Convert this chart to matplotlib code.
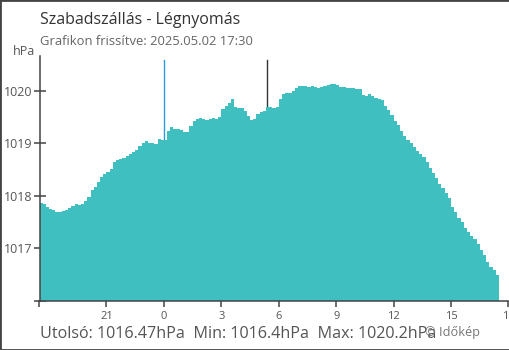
import numpy as np
import matplotlib.pyplot as plt
from matplotlib.patches import Rectangle

plt.rcParams['font.family'] = ['Open Sans', 'DejaVu Sans']

# 10 minute readings, starting 17:30 the previous day (hours relative to midnight)
start_hour = -6.5
step_hour = 1 / 6
pressure = [
    1017.86, 1017.84, 1017.79, 1017.75, 1017.72, 1017.69, 1017.69, 1017.71, 1017.73, 1017.77,
    1017.81, 1017.84, 1017.82, 1017.84, 1017.90, 1017.98, 1018.11, 1018.17, 1018.26, 1018.36,
    1018.42, 1018.45, 1018.51, 1018.64, 1018.68, 1018.70, 1018.72, 1018.76, 1018.80, 1018.83,
    1018.87, 1018.95, 1019.01, 1019.04, 1019.01, 1019.01, 1018.99, 1019.08, 1019.06, 1019.06,
    1019.23, 1019.31, 1019.27, 1019.27, 1019.25, 1019.22, 1019.22, 1019.33, 1019.42, 1019.46,
    1019.48, 1019.46, 1019.44, 1019.46, 1019.48, 1019.46, 1019.50, 1019.65, 1019.71, 1019.77,
    1019.84, 1019.69, 1019.67, 1019.67, 1019.62, 1019.52, 1019.44, 1019.46, 1019.56, 1019.60,
    1019.62, 1019.69, 1019.69, 1019.67, 1019.69, 1019.84, 1019.94, 1019.96, 1019.96, 1020.00,
    1020.05, 1020.09, 1020.09, 1020.09, 1020.07, 1020.09, 1020.07, 1020.05, 1020.07, 1020.09,
    1020.11, 1020.13, 1020.13, 1020.11, 1020.07, 1020.07, 1020.05, 1020.05, 1020.05, 1020.03,
    1020.03, 1019.92, 1019.90, 1019.94, 1019.90, 1019.86, 1019.84, 1019.82, 1019.71, 1019.63,
    1019.54, 1019.42, 1019.35, 1019.23, 1019.14, 1019.06, 1019.01, 1018.93, 1018.85, 1018.80,
    1018.74, 1018.64, 1018.53, 1018.43, 1018.34, 1018.22, 1018.15, 1018.05, 1017.96, 1017.79,
    1017.69, 1017.58, 1017.50, 1017.39, 1017.31, 1017.23, 1017.18, 1017.08, 1016.97, 1016.87,
    1016.74, 1016.64, 1016.59, 1016.49,
]

x_ticks = [-6.5, -3, 0, 3, 6, 9, 12, 15, 18]
x_labels = ['', '21', '0', '3', '6', '9', '12', '15', '18']
y_ticks = [1016, 1017, 1018, 1019, 1020]
y_labels = ['', '1017', '1018', '1019', '1020']
marker_hour = 5.37

edges = start_hour + step_hour * np.arange(len(pressure) + 1)

fig = plt.figure(figsize=(5.1, 3.5), dpi=100)
ax = fig.add_axes([39.5 / 510, 49.2 / 350, 469 / 510, 244.8 / 350])

ax.axvline(0, ymax=0.984, color='#2b9be0', lw=1, zorder=1)
ax.axvline(marker_hour, ymax=0.984, color='#333333', lw=1, zorder=1)
ax.stairs(pressure, edges, baseline=1016, fill=True, color='#40bfc1', lw=0, zorder=2)

ax.set_xlim(-6.5, 18)
ax.set_ylim(1016, 1020.66)
ax.set_xticks(x_ticks, x_labels)
ax.set_yticks(y_ticks, y_labels)

for s in ['top', 'right']:
    ax.spines[s].set_visible(False)
for s in ['left', 'bottom']:
    ax.spines[s].set_color('#444444')
    ax.spines[s].set_linewidth(1.1)

ax.tick_params(axis='x', direction='out', length=4, width=1.1, color='#444444',
               labelsize=8, labelcolor='#555555', pad=3)
ax.tick_params(axis='y', direction='inout', length=8, width=1.1, color='#444444',
               labelsize=9, labelcolor='#555555', pad=1)
ax.get_xticklines()[4].set_color('#2b9be0')

fig.text(40 / 510, 1 - 24 / 350, 'Szabadszállás - Légnyomás', fontsize=11.5, color='#333333')
fig.text(40 / 510, 1 - 45 / 350, 'Grafikon frissítve: 2025.05.02 17:30', fontsize=9.4, color='#666666')
fig.text(35 / 510, 1 - 55 / 350, 'hPa', fontsize=9, color='#555555', ha='right')
fig.text(40 / 510, 1 - 338 / 350, 'Utolsó: 1016.47hPa  Min: 1016.4hPa  Max: 1020.2hPa',
         fontsize=11.6, color='#555555')
fig.text(425 / 510, 1 - 336 / 350, '© Időkép', fontsize=9.2, color='#777777')

fig.patches.append(Rectangle((0, 0), 1, 1, transform=fig.transFigure, fill=False,
                             edgecolor='#444444', lw=2))

fig.savefig('out.png', dpi=100)
